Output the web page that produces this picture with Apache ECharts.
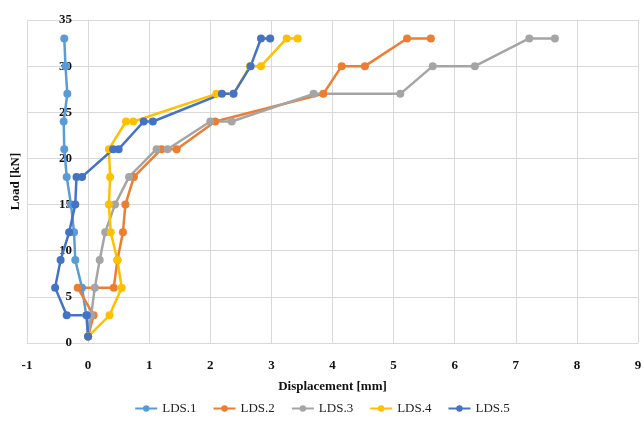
<!DOCTYPE html>
<html>
<head>
<meta charset="utf-8">
<script src="https://cdn.jsdelivr.net/npm/echarts@6/dist/echarts.min.js"></script>
<style>
  html, body { margin: 0; padding: 0; background: #fff; }
  #chart { width: 644px; height: 425px; }
</style>
</head>
<body>
<div id="chart"></div>
<script>
// Load–displacement records for the five test specimens
const seriesNames = ['LDS.1', 'LDS.2', 'LDS.3', 'LDS.4', 'LDS.5'];
const seriesColors = ['#5B9BD5', '#ED7D31', '#A5A5A5', '#FFC000', '#4472C4'];

// displacement [mm] and load [kN] for each reading
const lds1Disp = [0, -0.03, -0.10, -0.21, -0.23, -0.28, -0.35, -0.39, -0.40, -0.34, -0.37, -0.39];
const lds1Load = [0.7, 3, 6, 9, 12, 15, 18, 21, 24, 27, 30, 33];

const lds2Disp = [0, 0.09, -0.17, 0.42, 0.48, 0.57, 0.61, 0.75, 1.20, 1.45, 2.08, 3.85, 4.15, 4.53, 5.22, 5.61];
const lds2Load = [0.7, 3, 6, 6, 9, 12, 15, 18, 21, 21, 24, 27, 30, 30, 33, 33];

const lds3Disp = [0, 0.05, 0.11, 0.19, 0.28, 0.44, 0.67, 1.12, 1.30, 2.00, 2.35, 3.69, 5.11, 5.64, 6.33, 7.22, 7.64];
const lds3Load = [0.7, 3, 6, 9, 12, 15, 18, 21, 21, 24, 24, 27, 27, 30, 30, 33, 33];

const lds4Disp = [0, 0.35, 0.55, 0.48, 0.37, 0.34, 0.36, 0.34, 0.62, 0.74, 2.10, 2.38, 2.65, 2.83, 3.25, 3.43];
const lds4Load = [0.7, 3, 6, 9, 12, 15, 18, 21, 24, 24, 27, 27, 30, 30, 33, 33];

const lds5Disp = [0, -0.02, -0.35, -0.54, -0.45, -0.31, -0.21, -0.19, -0.10, 0.41, 0.50, 0.91, 1.06, 2.19, 2.38, 2.66, 2.83, 2.98];
const lds5Load = [0.7, 3, 3, 6, 9, 12, 15, 18, 18, 21, 21, 24, 24, 27, 27, 30, 33, 33];

// axis ranges
const xMin = -1, xMax = 9, xStep = 1;
const yMin = 0, yMax = 35, yStep = 5;

const dispSets = [lds1Disp, lds2Disp, lds3Disp, lds4Disp, lds5Disp];
const loadSets = [lds1Load, lds2Load, lds3Load, lds4Load, lds5Load];

const fontFamily = '"Liberation Serif", "DejaVu Serif", serif';
const gridColor = '#d9d9d9';

// plot area, in pixels
const gridLeft = 27, gridRight = 6, gridTop = 20, gridBottom = 82;
const chartWidth = 644;
// the load axis sits where displacement is zero
const zeroOffset = -((0 - xMin) / (xMax - xMin)) * (chartWidth - gridLeft - gridRight);

const chart = echarts.init(document.getElementById('chart'), null, { renderer: 'canvas' });

const series = seriesNames.map((name, i) => ({
  name: name,
  type: 'line',
  data: dispSets[i].map((d, k) => [d, loadSets[i][k]]),
  symbol: 'circle',
  symbolSize: 8,
  showSymbol: true,
  color: seriesColors[i],
  lineStyle: { width: 2.5, color: seriesColors[i] },
  itemStyle: { color: seriesColors[i] },
  emphasis: { disabled: true },
  animation: false
}));

chart.setOption({
  backgroundColor: '#ffffff',
  animation: false,
  grid: { left: gridLeft, right: gridRight, top: gridTop, bottom: gridBottom, containLabel: false, outerBoundsMode: 'none' },
  legend: {
    bottom: 5,
    left: 'center',
    itemWidth: 22,
    itemHeight: 8,
    itemGap: 16,
    textStyle: { fontFamily: fontFamily, fontSize: 13, color: '#222' },
    data: seriesNames
  },
  xAxis: {
    type: 'value',
    min: xMin, max: xMax, interval: xStep,
    name: 'Displacement [mm]',
    nameLocation: 'middle',
    nameGap: 37,
    nameTextStyle: { fontFamily: fontFamily, fontSize: 13, fontWeight: 'bold', color: '#111' },
    axisLine: { show: true, onZero: false, lineStyle: { color: gridColor, width: 1 } },
    axisTick: { show: false },
    axisLabel: { margin: 16, fontFamily: fontFamily, fontSize: 13, fontWeight: 'bold', color: '#111' },
    splitLine: { show: true, lineStyle: { color: gridColor, width: 1 } }
  },
  yAxis: {
    type: 'value',
    min: yMin, max: yMax, interval: yStep,
    offset: zeroOffset,
    name: 'Load [kN]',
    nameLocation: 'middle',
    nameGap: 66,
    nameRotate: 90,
    nameTextStyle: { fontFamily: fontFamily, fontSize: 13, fontWeight: 'bold', color: '#111' },
    axisLine: { show: true, onZero: false, lineStyle: { color: gridColor, width: 1 } },
    axisTick: { show: false },
    axisLabel: { margin: 16, fontFamily: fontFamily, fontSize: 13, fontWeight: 'bold', color: '#111' },
    splitLine: { show: true, lineStyle: { color: gridColor, width: 1 } }
  },
  series: series
});
</script>
</body>
</html>
